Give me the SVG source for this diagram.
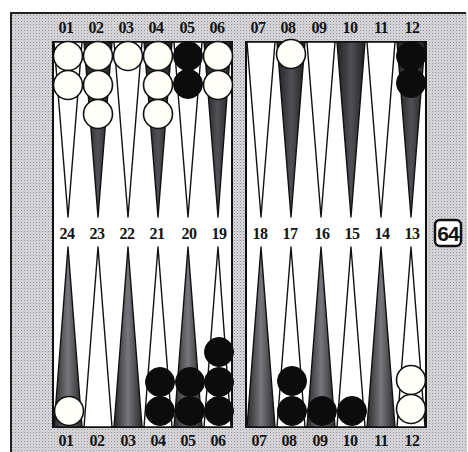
<svg xmlns="http://www.w3.org/2000/svg" width="468" height="452" viewBox="0 0 468 452">
<defs>
<pattern id="dots" width="3" height="3" patternUnits="userSpaceOnUse">
<rect width="3" height="3" fill="#d9d7de"/>
<rect x="0" y="0" width="1" height="1" fill="#8f8f96"/>
<rect x="1.5" y="1.5" width="1" height="1" fill="#bdb8aa"/>
</pattern>
<linearGradient id="dk" x1="0" y1="0" x2="1" y2="0">
<stop offset="0" stop-color="#222"/>
<stop offset="0.5" stop-color="#505056"/>
<stop offset="1" stop-color="#222"/>
</linearGradient>
<linearGradient id="dk2" x1="0" y1="0" x2="1" y2="0">
<stop offset="0" stop-color="#2a2a2a"/>
<stop offset="0.5" stop-color="#77767c"/>
<stop offset="1" stop-color="#2a2a2a"/>
</linearGradient>
<circle id="w" r="14.5" fill="#fffef8" stroke="#111" stroke-width="1.6"/>
<circle id="b" r="14.5" fill="#0c0c0c" stroke="#0c0c0c" stroke-width="1"/>
</defs>
<style>
.lbl{font-family:"Liberation Serif","DejaVu Serif",serif;font-weight:bold;font-size:16px;letter-spacing:-0.5px;fill:#141414;text-anchor:middle}
.wt{fill:#fff;stroke:#111;stroke-width:1.4;stroke-linejoin:round}
.dt{fill:url(#dk);stroke:#111;stroke-width:1.4;stroke-linejoin:round}
.db{fill:url(#dk2);stroke:#111;stroke-width:1.4;stroke-linejoin:round}
</style>
<rect width="468" height="452" fill="#fff"/>
<g id="frame">
<rect x="11" y="13" width="456" height="445" fill="url(#dots)"/>
<path d="M11,452 V13 H466" fill="none" stroke="#222" stroke-width="2"/>
<rect x="53" y="42" width="179" height="385" fill="#fff" stroke="#111" stroke-width="2"/>
<rect x="246" y="42" width="180" height="385" fill="#fff" stroke="#111" stroke-width="2"/>
</g>
<g id="points">
<polygon class="wt" points="54,42 82,42 68,217"/>
<polygon class="dt" points="84,42 112,42 98,217"/>
<polygon class="wt" points="114,42 142,42 128,217"/>
<polygon class="dt" points="144,42 172,42 158,217"/>
<polygon class="wt" points="174,42 202,42 188,217"/>
<polygon class="dt" points="204,42 231,42 218,217"/>
<polygon class="wt" points="247,42 275,42 261,217"/>
<polygon class="dt" points="277,42 305,42 291,217"/>
<polygon class="wt" points="307,42 335,42 321,217"/>
<polygon class="dt" points="337,42 365,42 351,217"/>
<polygon class="wt" points="367,42 395,42 381,217"/>
<polygon class="dt" points="397,42 425,42 411,217"/>
<polygon class="db" points="54,427 82,427 68,247"/>
<polygon class="wt" points="84,427 112,427 98,247"/>
<polygon class="db" points="114,427 142,427 128,247"/>
<polygon class="wt" points="144,427 172,427 158,247"/>
<polygon class="db" points="174,427 202,427 188,247"/>
<polygon class="wt" points="204,427 231,427 218,247"/>
<polygon class="db" points="247,427 275,427 261,247"/>
<polygon class="wt" points="277,427 305,427 291,247"/>
<polygon class="db" points="307,427 335,427 321,247"/>
<polygon class="wt" points="337,427 365,427 351,247"/>
<polygon class="db" points="367,427 395,427 381,247"/>
<polygon class="wt" points="397,427 425,427 411,247"/>
</g>
<g id="checkers">
<use href="#w" x="68" y="56"/><use href="#w" x="68" y="85"/>
<use href="#w" x="98" y="56"/><use href="#w" x="98" y="85"/><use href="#w" x="98" y="114"/>
<use href="#w" x="128" y="56"/>
<use href="#w" x="158" y="56"/><use href="#w" x="158" y="85"/><use href="#w" x="158" y="114"/>
<use href="#b" x="188" y="56"/><use href="#b" x="188" y="84"/>
<use href="#w" x="218" y="56"/><use href="#w" x="218" y="85"/>
<use href="#w" x="291" y="54"/>
<use href="#b" x="411" y="56"/><use href="#b" x="411" y="83"/>
<use href="#w" x="69" y="411"/>
<use href="#b" x="160" y="382"/><use href="#b" x="160" y="411"/>
<use href="#b" x="190" y="382"/><use href="#b" x="190" y="411"/>
<use href="#b" x="219" y="352"/><use href="#b" x="219" y="382"/><use href="#b" x="219" y="411"/>
<use href="#b" x="292" y="381"/><use href="#b" x="292" y="411"/>
<use href="#b" x="322" y="411"/>
<use href="#b" x="352" y="411"/>
<use href="#w" x="411" y="380"/><use href="#w" x="411" y="409"/>
</g>
<g id="labels">
<text class="lbl" x="66" y="33">01</text>
<text class="lbl" x="96" y="33">02</text>
<text class="lbl" x="126" y="33">03</text>
<text class="lbl" x="156" y="33">04</text>
<text class="lbl" x="187" y="33">05</text>
<text class="lbl" x="217" y="33">06</text>
<text class="lbl" x="258" y="33">07</text>
<text class="lbl" x="288" y="33">08</text>
<text class="lbl" x="319" y="33">09</text>
<text class="lbl" x="350" y="33">10</text>
<text class="lbl" x="381" y="33">11</text>
<text class="lbl" x="412" y="33">12</text>
<text class="lbl" x="67" y="239">24</text>
<text class="lbl" x="97" y="239">23</text>
<text class="lbl" x="127" y="239">22</text>
<text class="lbl" x="157" y="239">21</text>
<text class="lbl" x="189" y="239">20</text>
<text class="lbl" x="219" y="239">19</text>
<text class="lbl" x="260" y="239">18</text>
<text class="lbl" x="290" y="239">17</text>
<text class="lbl" x="322" y="239">16</text>
<text class="lbl" x="352" y="239">15</text>
<text class="lbl" x="382" y="239">14</text>
<text class="lbl" x="412" y="239">13</text>
<text class="lbl" x="66" y="446">01</text>
<text class="lbl" x="97" y="446">02</text>
<text class="lbl" x="128" y="446">03</text>
<text class="lbl" x="158" y="446">04</text>
<text class="lbl" x="188" y="446">05</text>
<text class="lbl" x="218" y="446">06</text>
<text class="lbl" x="259" y="446">07</text>
<text class="lbl" x="289" y="446">08</text>
<text class="lbl" x="320" y="446">09</text>
<text class="lbl" x="350" y="446">10</text>
<text class="lbl" x="381" y="446">11</text>
<text class="lbl" x="412" y="446">12</text>
</g>
<g id="cube">
<rect x="435" y="220" width="26" height="26" rx="5" fill="#fff" stroke="#111" stroke-width="2.5"/>
<text x="448" y="241" font-family="Liberation Sans, DejaVu Sans, sans-serif" font-weight="bold" font-size="21" letter-spacing="-1" text-anchor="middle" fill="#111">64</text>
</g>
</svg>
